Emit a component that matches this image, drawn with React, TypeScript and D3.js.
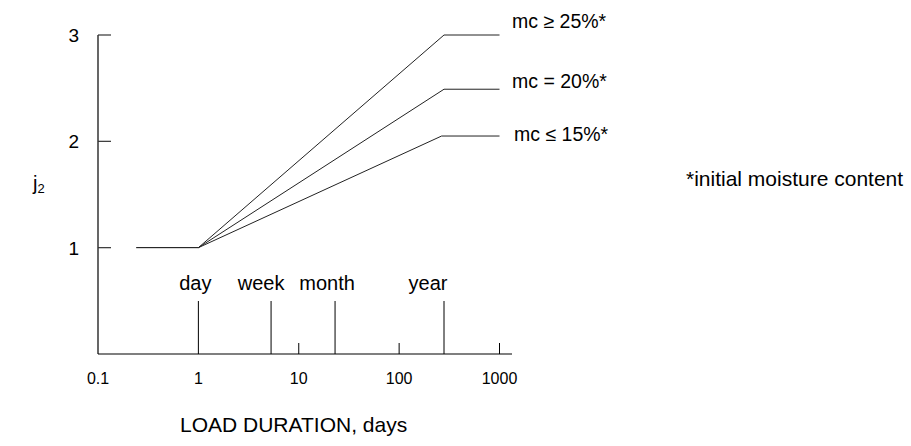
import React from "react";
import * as d3 from "d3";

// ---- data ----
const yTicks = [1, 2, 3];
const xTickValues = [0.1, 1, 10, 100, 1000];
const xTickLabels = ["0.1", "1", "10", "100", "1000"];
const minorTicks = [10, 100, 1000];
const eventNames = ["day", "week", "month", "year"];
const eventDays = [1, 5.3, 23, 280];
const baseSegment = [
  { t: 0.24, j: 1 },
  { t: 1, j: 1 },
];
const seriesNames = ["mc \u2265 25%*", "mc = 20%*", "mc \u2264 15%*"];
const seriesHigh = [ { t: 1, j: 1 }, { t: 280, j: 3 }, { t: 1000, j: 3 } ];
const seriesMid = [ { t: 1, j: 1 }, { t: 280, j: 2.49 }, { t: 1000, j: 2.49 } ];
const seriesLow = [ { t: 1, j: 1 }, { t: 265, j: 2.05 }, { t: 1000, j: 2.05 } ];
const footnote = "*initial moisture content";
const xTitle = "LOAD DURATION, days";

const W = 911;
const H = 446;
const FONT = "'Liberation Sans', Arial, Helvetica, sans-serif";

export default function App() {
  const x = d3.scaleLog().domain([0.1, 1000]).range([98, 499.5]);
  const y = d3.scaleLinear().domain([0, 3]).range([354, 35]);
  const line = d3
    .line<{ t: number; j: number }>()
    .x((d) => x(d.t))
    .y((d) => y(d.j));

  const series = [seriesHigh, seriesMid, seriesLow];
  const labelBaselines = [28, 88, 141];
  const labelX = [512, 512, 514];
  const eventDx = [-3, -10, -8, -16];
  const axisEndX = 512;

  return (
    <svg
      width={W}
      height={H}
      style={{ position: "absolute", left: 0, top: 0, background: "#fff" }}
      fontFamily={FONT}
    >
      <rect x={0} y={0} width={W} height={H} fill="#fff" />
      {/* axes */}
      <line x1={x(0.1)} x2={x(0.1)} y1={y(3)} y2={y(0)} stroke="#000" strokeWidth={1.2} />
      <line x1={x(0.1)} x2={axisEndX} y1={y(0)} y2={y(0)} stroke="#000" strokeWidth={1.2} />
      {yTicks.map((v) => (
        <g key={"yt" + v}>
          <line x1={x(0.1)} x2={x(0.1) + 13} y1={y(v)} y2={y(v)} stroke="#333" strokeWidth={1.2} />
          <text x={79} y={y(v) + 7} fontSize={19} textAnchor="end" fill="#000">
            {v}
          </text>
        </g>
      ))}
      {xTickValues.map((v, i) => (
        <text key={"xl" + i} x={x(v)} y={384} fontSize={16} textAnchor="middle" fill="#000">
          {xTickLabels[i]}
        </text>
      ))}
      {minorTicks.map((v) => (
        <line key={"mt" + v} x1={x(v)} x2={x(v)} y1={y(0) - 11} y2={y(0)} stroke="#000" strokeWidth={1} />
      ))}
      {eventDays.map((v, i) => (
        <g key={"ev" + i}>
          <line x1={x(v)} x2={x(v)} y1={301} y2={y(0)} stroke="#000" strokeWidth={1} />
          <text x={x(v) + eventDx[i]} y={290} fontSize={20} textAnchor="middle" fill="#000">
            {eventNames[i]}
          </text>
        </g>
      ))}
      {/* curves */}
      <path d={line(baseSegment) || ""} fill="none" stroke="#000" strokeWidth={1} />
      {series.map((s, i) => (
        <g key={"s" + i}>
          <path d={line(s) || ""} fill="none" stroke="#222" strokeWidth={1} />
          <text x={labelX[i]} y={labelBaselines[i]} fontSize={19.5} fill="#000">
            {seriesNames[i]}
          </text>
        </g>
      ))}
      {/* y title */}
      <text x={33} y={190} fontSize={20} fill="#000">
        j<tspan fontSize={13} dy={3}>2</tspan>
      </text>
      <text x={686} y={186} fontSize={21} fill="#000">
        {footnote}
      </text>
      <text x={180} y={432} fontSize={21} fill="#000">
        {xTitle}
      </text>
    </svg>
  );
}
